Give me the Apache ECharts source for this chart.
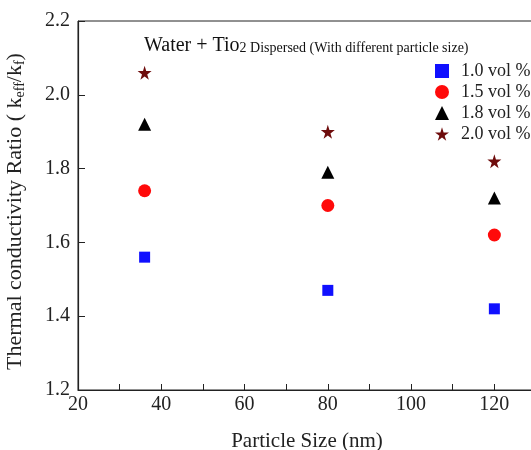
<!DOCTYPE html>
<html>
<head>
<meta charset="utf-8">
<script src="https://cdn.jsdelivr.net/npm/echarts@6/dist/echarts.min.js"></script>
<style>
  html, body { margin: 0; padding: 0; background: #fff; }
  #chart { width: 531px; height: 450px; }
</style>
</head>
<body>
<div id="chart"></div>
<script>
// particle size (nm)
const particleSize = [36, 80, 120]
// thermal conductivity ratio per concentration
const vol10 = [1.56, 1.47, 1.42]
const vol15 = [1.74, 1.70, 1.62]
const vol18 = [1.92, 1.79, 1.72]
const vol20 = [2.06, 1.90, 1.82]
const seriesNames = ['1.0 vol %', '1.5 vol %', '1.8 vol %', '2.0 vol %']

const starPath = 'path://M50,0 L61,35 L98,35 L68,57 L79,91 L50,70 L21,91 L32,57 L2,35 L39,35 Z'
const serif = '"Liberation Serif", "DejaVu Serif", serif'

const pairs = vals => particleSize.map((x, i) => [x, vals[i]])

const chart = echarts.init(document.getElementById('chart'))

const option = {
  backgroundColor: '#fff',
  animation: false,
  textStyle: { fontFamily: serif },
  title: {
    text: '{a|Water + Tio}{b|2 Dispersed (With different particle size)}',
    left: 139,
    top: 31,
    textStyle: {
      fontWeight: 'normal',
      rich: {
        a: { fontFamily: serif, fontSize: 20, color: '#111', fontWeight: 'normal' },
        b: { fontFamily: serif, fontSize: 14, color: '#111', fontWeight: 'normal', padding: [4, 0, 0, 0] }
      }
    }
  },
  legend: {
    orient: 'vertical',
    left: 430,
    top: 57,
    itemWidth: 14,
    itemHeight: 14,
    itemGap: 3,
    textStyle: { fontFamily: serif, fontSize: 18, color: '#222', padding: [0, 0, 0, 7] },
    data: seriesNames
  },
  grid: {
    left: 78,
    top: 21,
    right: -5,
    bottom: 60,
    outerBoundsMode: 'none',
    show: true,
    borderColor: '#222',
    borderWidth: 1
  },
  xAxis: {
    type: 'value',
    min: 20,
    max: 130,
    interval: 10,
    name: 'Particle Size (nm)',
    nameLocation: 'middle',
    nameGap: 41,
    nameTextStyle: { fontFamily: serif, fontSize: 21, color: '#222' },
    axisLine: { lineStyle: { color: '#222', width: 1.2 } },
    axisTick: { inside: true, length: 6, lineStyle: { color: '#222' } },
    axisLabel: {
      fontFamily: serif,
      fontSize: 20,
      color: '#222',
      margin: 5,
      formatter: v => (v % 20 === 0 && v <= 120 ? String(v) : '')
    },
    splitLine: { show: false }
  },
  yAxis: {
    type: 'value',
    min: 1.2,
    max: 2.2,
    interval: 0.2,
    name: '{a|Thermal conductivity Ratio ( k}{s|eff}{a|/k}{s|f}{a|)}',
    nameLocation: 'middle',
    nameGap: 51,
    nameTextStyle: {
      padding: [0, 12, 0, 0],
      rich: {
        a: { fontFamily: serif, fontSize: 22, color: '#222' },
        s: { fontFamily: serif, fontSize: 14, color: '#222', padding: [9, 0, 0, 0] }
      }
    },
    axisLine: { show: true, lineStyle: { color: '#222', width: 1.2 } },
    axisTick: { show: true, inside: true, length: 7, lineStyle: { color: '#222' } },
    axisLabel: {
      fontFamily: serif,
      fontSize: 20,
      color: '#222',
      margin: 8,
      formatter: v => v.toFixed(1)
    },
    splitLine: { show: false }
  },
  series: [
    {
      name: seriesNames[0],
      type: 'scatter',
      symbol: 'rect',
      symbolSize: 11,
      itemStyle: { color: '#1010ff', opacity: 1 },
      data: pairs(vol10)
    },
    {
      name: seriesNames[1],
      type: 'scatter',
      symbol: 'circle',
      symbolSize: 13,
      itemStyle: { color: '#ff0a0a', opacity: 1 },
      data: pairs(vol15)
    },
    {
      name: seriesNames[2],
      type: 'scatter',
      symbol: 'triangle',
      symbolSize: 13,
      itemStyle: { color: '#000', opacity: 1 },
      data: pairs(vol18)
    },
    {
      name: seriesNames[3],
      type: 'scatter',
      symbol: starPath,
      symbolSize: 14,
      itemStyle: { color: '#6e0c0c', opacity: 1 },
      data: pairs(vol20)
    }
  ]
}

chart.setOption(option)
</script>
</body>
</html>
